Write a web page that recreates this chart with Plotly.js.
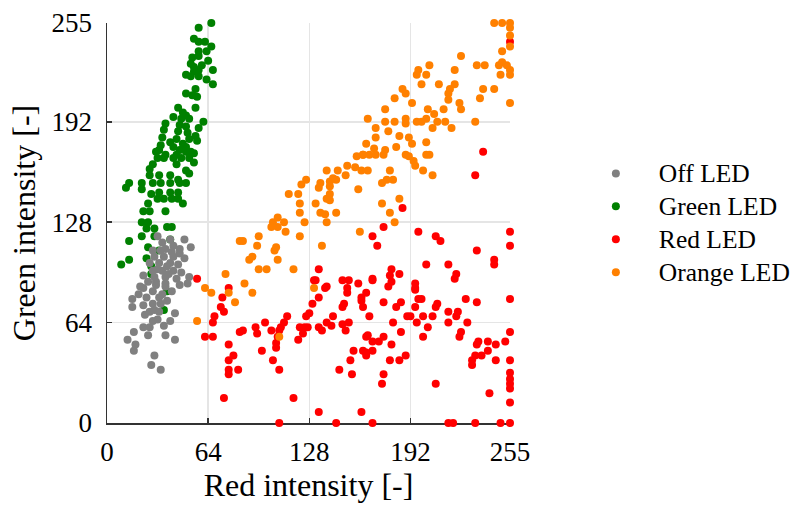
<!DOCTYPE html>
<html>
<head>
<meta charset="utf-8">
<script src="https://cdn.plot.ly/plotly-3.0.1.min.js"></script>
<style>
html,body{margin:0;padding:0;background:#fff;}
#chart{width:803px;height:506px;}
#chart svg text{font-family:"Liberation Serif" !important;}
#chart svg text.legendtext{font-size:25.5px !important;}
#chart .legend .scrollbox{clip-path:none !important;}
</style>
</head>
<body>
<div id="chart"></div>
<script>
// ---- data (red, green) pairs ----
const seriesNames = ["Off LED", "Green LED", "Red LED", "Orange LED"];
const tickVals = [0, 64, 128, 192, 255];
const tickText = ["0", "64", "128", "192", "255"];

const greenPts = [[66,255],[58,252],[55,245],[58,243],[62,243],[66,240],[63,237],[58,237],[58,234],[54,233],[64,231],[53,229],[60,228],[55,227],[67,225],[58,225],[55,224],[50,222],[53,221],[58,221],[63,219],[67,216],[56,213],[50,210],[54,209],[57,208],[45,201],[56,201],[48,198],[50,196],[42,195],[47,194],[52,194],[61,192],[37,191],[46,190],[50,189],[58,188],[36,187],[45,186],[51,185],[56,183],[35,182],[44,181],[52,181],[57,180],[40,179],[48,178],[34,177],[42,176],[50,176],[33,174],[46,174],[53,173],[37,171],[44,171],[31,173],[50,173],[55,172],[32,169],[36,169],[42,169],[47,169],[52,169],[55,166],[29,165],[44,165],[27,162],[50,161],[52,159],[27,158],[33,158],[40,158],[45,155],[14,153],[12,150],[22,153],[22,149],[29,153],[34,153],[40,153],[46,153],[50,153],[28,146],[33,147],[40,147],[45,147],[32,143],[36,143],[41,143],[45,143],[48,140],[26,140],[23,135],[27,135],[37,135],[22,128],[26,128],[25,124],[30,124],[38,125],[41,125],[14,116],[22,119],[40,117],[26,112],[30,119],[14,104],[9,101],[28,100],[28,95],[38,84],[36,72],[33,110],[25,105]];

const offPts = [[32,119],[40,117],[49,117],[53,112],[29,110],[34,110],[37,111],[41,109],[46,111],[46,108],[30,106],[36,106],[42,106],[49,105],[27,102],[33,102],[40,102],[45,101],[29,97],[35,97],[42,97],[47,96],[23,94],[30,93],[37,93],[44,92],[52,93],[21,87],[31,88],[37,87],[51,89],[46,88],[31,90],[37,89],[23,86],[29,84],[16,79],[25,80],[35,82],[38,78],[16,74],[23,75],[29,76],[34,76],[27,71],[33,71],[24,69],[32,66],[43,70],[40,65],[23,61],[27,61],[17,58],[26,56],[37,56],[13,53],[43,53],[18,50],[17,46],[30,43],[28,37],[34,34],[38,100],[35,115],[42,113],[32,98],[39,95],[26,90],[41,84],[33,80],[20,82],[30,72],[36,62],[29,65]];

const redPts = [[255,243],[238,173],[233,158],[187,137],[175,125],[168,119],[171,113],[197,122],[208,119],[211,116],[255,122],[255,113],[234,110],[245,104],[245,101],[202,101],[216,101],[221,95],[220,92],[168,92],[180,98],[179,94],[185,95],[180,90],[178,87],[195,89],[195,86],[131,91],[138,86],[134,80],[130,76],[128,70],[126,68],[114,68],[112,64],[110,61],[109,59],[108,55],[107,51],[107,48],[105,40],[109,34],[118,16],[109,0],[134,7],[145,0],[161,7],[100,64],[94,61],[95,57],[104,59],[86,59],[98,46],[122,61],[125,61],[127,61],[124,57],[121,53],[134,61],[136,59],[139,64],[143,68],[142,62],[149,63],[153,64],[151,59],[150,76],[152,83],[149,74],[159,89],[161,78],[164,83],[164,55],[164,45],[156,46],[154,40],[147,34],[155,31],[162,46],[77,50],[80,43],[77,40],[83,34],[77,34],[57,92],[77,86],[73,80],[72,74],[74,71],[68,68],[67,64],[62,55],[67,55],[77,31],[74,16],[84,58],[168,91],[161,80],[162,74],[166,68],[175,77],[183,74],[186,77],[195,85],[197,79],[199,79],[195,74],[192,68],[190,68],[196,64],[200,68],[203,61],[200,55],[206,68],[209,76],[208,74],[216,71],[222,71],[216,64],[221,68],[227,79],[234,77],[228,64],[224,58],[223,55],[255,79],[255,58],[252,52],[246,50],[241,52],[241,46],[235,52],[234,50],[233,43],[231,40],[231,37],[237,43],[246,40],[255,40],[255,32],[255,28],[255,25],[255,22],[255,13],[242,19],[208,25],[165,56],[168,52],[172,52],[175,55],[164,43],[168,46],[180,50],[186,58],[179,40],[185,40],[189,43],[175,31],[174,25],[168,0],[216,0],[219,0],[233,0],[249,0],[255,0],[181,64],[134,98],[132,91],[139,87],[149,91],[153,91],[152,86]];

const orangePts = [[75,95],[62,86],[84,116],[66,83],[77,83],[81,77],[57,65],[158,170],[162,171],[152,164],[157,163],[161,161],[139,161],[146,161],[151,158],[143,156],[145,155],[141,154],[135,153],[141,151],[134,150],[126,155],[123,152],[159,149],[115,146],[121,146],[141,146],[139,143],[141,142],[122,140],[132,140],[145,134],[122,134],[135,134],[138,133],[139,128],[125,128],[108,131],[105,128],[112,128],[104,125],[108,125],[113,122],[96,119],[122,119],[86,116],[95,113],[107,112],[106,110],[92,106],[90,104],[108,104],[96,98],[101,98],[118,98],[87,89],[136,113],[160,122],[245,255],[250,255],[255,255],[255,252],[255,247],[255,240],[250,237],[224,234],[234,228],[239,228],[248,228],[250,230],[253,228],[255,225],[255,222],[249,222],[197,225],[196,222],[204,228],[202,222],[220,225],[199,216],[210,216],[220,216],[217,213],[216,210],[216,206],[187,213],[189,210],[182,207],[193,204],[203,200],[207,197],[213,200],[223,204],[224,200],[238,213],[245,213],[236,207],[255,204],[176,200],[165,194],[176,192],[182,192],[189,194],[189,191],[196,192],[199,192],[202,194],[206,188],[209,192],[214,192],[218,188],[233,192],[170,188],[178,186],[170,182],[164,178],[185,183],[191,182],[193,178],[202,179],[204,171],[176,174],[183,176],[169,175],[162,171],[166,171],[170,171],[175,171],[189,171],[191,170],[194,167],[195,164],[202,171],[200,161],[206,158],[165,161],[179,161],[181,155],[177,155],[174,153],[174,140],[179,134],[185,143],[182,128],[92,83],[131,86],[109,55]];

const colors = {"Off LED":"#808080","Green LED":"#008000","Red LED":"#ff0000","Orange LED":"#ff8000"};
const FONT = "Liberation Serif";

function mk(name, pts, rank){
  return {
    type:"scatter", mode:"markers", name:name,
    x: pts.map(p=>p[0]), y: pts.map(p=>p[1]),
    marker:{color:colors[name], size:8, line:{width:0}},
    cliponaxis:false, legendrank:rank, hoverinfo:"skip"
  };
}
const traces = [
  mk("Green LED", greenPts, 2),
  mk("Off LED", offPts, 1),
  mk("Red LED", redPts, 3),
  mk("Orange LED", orangePts, 4)
];

const axisCommon = {
  range:[0,255], tickvals:tickVals, ticktext:tickText, ticks:"inside", ticklen:5, tickwidth:1.5,
  tickcolor:"#333", showline:true, linecolor:"#333", linewidth:1.5, mirror:false,
  showgrid:true, gridcolor:"#e5e5e5", gridwidth:1.5, zeroline:false,
  tickfont:{family:FONT, size:27, color:"#000"}, layer:"below traces", automargin:false, fixedrange:true
};

const layout = {
  width:803, height:506,
  margin:{l:107, r:293, t:23, b:83},
  paper_bgcolor:"#fff", plot_bgcolor:"#fff",
  font:{family:FONT, color:"#000"},
  xaxis:Object.assign({}, axisCommon, {
    title:{text:"Red intensity [-]", font:{family:FONT, size:32, color:"#000"}, standoff:7},
    ticklabelstandoff:4
  }),
  yaxis:Object.assign({}, axisCommon, {
    title:{text:"Green intensity [-]", font:{family:FONT, size:32, color:"#000"}, standoff:6},
    ticklabelstandoff:8
  }),
  legend:{x:1.156, xanchor:"left", y:0.5, yanchor:"middle", font:{family:FONT, size:23, color:"#000"},
          bgcolor:"rgba(0,0,0,0)", itemwidth:76, tracegroupgap:0},
  showlegend:true
};

Plotly.newPlot("chart", traces, layout, {staticPlot:true, displayModeBar:false});
</script>
</body>
</html>
